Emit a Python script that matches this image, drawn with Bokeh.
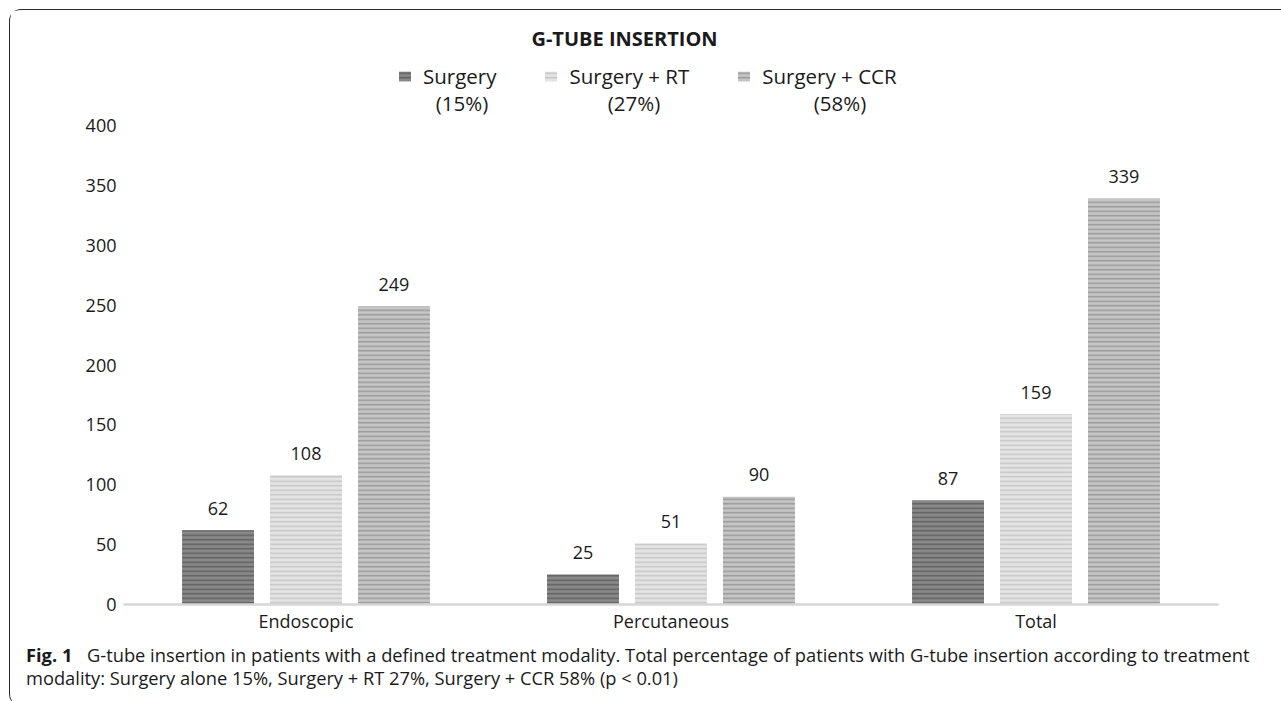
from bokeh.plotting import figure
from bokeh.layouts import column
from bokeh.models import (FactorRange, Range1d, ColumnDataSource, LabelSet, Label,
                          Legend, LegendItem, FixedTicker, Div)
from bokeh.transform import dodge
from bokeh.core.properties import value
from bokeh.embed import file_html
from bokeh.resources import INLINE

# ---------------- data ----------------
categories = ["Endoscopic", "Percutaneous", "Total"]
series = ["Surgery", "Surgery + RT", "Surgery + CCR"]
percents = ["(15%)", "(27%)", "(58%)"]
surgery = [62, 25, 87]
surgery_rt = [108, 51, 159]
surgery_ccr = [249, 90, 339]
y_ticks = [0, 50, 100, 150, 200, 250, 300, 350, 400]
title_text = "G-TUBE INSERTION"
caption_bold = "Fig. 1"
caption_line1 = ("G-tube insertion in patients with a defined treatment modality. Total percentage "
                 "of patients with G-tube insertion according to treatment")
caption_line2 = "modality: Surgery alone 15%, Surgery + RT 27%, Surgery + CCR 58% (p < 0.01)"

# ---------------- styles / layout ----------------
FONT = "Open Sans"
TXT = "#1a1a1a"
fills = ["#8a8a8a", "#e4e4e4", "#c6c6c6"]
hatches = ["#616161", "#c6c6c6", "#9a9a9a"]
offsets = [-0.241, 0.0, 0.241]
bar_w = 0.197

O = 10                     # page position of the canvas origin
W = 1268
H1 = 630                   # chart figure height
L, R, T, B = 113, 60, 0, 36
FRAME_LEFT = O + L         # page x of frame left
FRAME_BOTTOM = O + H1 - B  # page y of frame bottom (value 0)
PX_PER_UNIT = (FRAME_BOTTOM - 125) / 400.0
Y_TOP = (H1 - B - T) / PX_PER_UNIT


def sx(px):
    return px - FRAME_LEFT


def sy(py):
    return FRAME_BOTTOM - py


cols = ["s1", "s2", "s3"]
source = ColumnDataSource(dict(
    cat=categories,
    s1=surgery, s2=surgery_rt, s3=surgery_ccr,
    t1=[str(v) for v in surgery],
    t2=[str(v) for v in surgery_rt],
    t3=[str(v) for v in surgery_ccr],
))

p = figure(x_range=FactorRange(*categories), y_range=Range1d(0, Y_TOP),
           width=W, height=H1, min_border_left=L, min_border_right=R,
           min_border_top=T, min_border_bottom=B,
           output_backend="svg", toolbar_location=None, tools="",
           outline_line_color=None, background_fill_color="white",
           border_fill_color="white")

p.xgrid.visible = False
p.ygrid.visible = False

p.yaxis.ticker = FixedTicker(ticks=y_ticks)
p.yaxis.axis_line_color = None
p.yaxis.major_tick_line_color = None
p.yaxis.minor_tick_line_color = None
p.yaxis.major_tick_out = 0
p.yaxis.minor_tick_out = 0
p.yaxis.major_label_standoff = 7
p.yaxis.major_label_text_font = FONT
p.yaxis.major_label_text_font_size = "18px"
p.yaxis.major_label_text_color = TXT

p.xaxis.axis_line_color = "#d6d6d6"
p.xaxis.axis_line_width = 2.5
p.xaxis.major_tick_line_color = None
p.xaxis.minor_tick_line_color = None
p.xaxis.major_tick_out = 0
p.xaxis.minor_tick_out = 0
p.xaxis.major_label_standoff = 4
p.xaxis.major_label_text_font = FONT
p.xaxis.major_label_text_font_size = "18px"
p.xaxis.major_label_text_color = TXT

renderers = []
for i in range(3):
    r = p.vbar(x=dodge("cat", offsets[i], range=p.x_range), top=cols[i], width=bar_w,
               source=source, fill_color=fills[i], line_color=None,
               hatch_pattern="horizontal_line", hatch_color=hatches[i],
               hatch_scale=4.5, hatch_weight=1.6)
    renderers.append(r)
    p.add_layout(LabelSet(x=dodge("cat", offsets[i], range=p.x_range), y=cols[i],
                          text="t%d" % (i + 1), source=source, y_offset=22,
                          text_align="center", text_baseline="middle",
                          text_font=value(FONT), text_font_size="18px", text_color=TXT))

legend = Legend(items=[LegendItem(label=series[i], renderers=[renderers[i]]) for i in range(3)],
                orientation="horizontal", location=(sx(397), sy(90)),
                padding=0, margin=0, spacing=47, label_standoff=11,
                glyph_width=15, glyph_height=12, border_line_color=None,
                background_fill_alpha=0, label_text_font=FONT,
                label_text_font_size="20.5px", label_text_color=TXT)
p.add_layout(legend)

pct_x = [461.5, 633.5, 839.5]
for i in range(3):
    p.add_layout(Label(x=sx(pct_x[i]), y=sy(102), x_units="screen", y_units="screen",
                       text=percents[i], text_align="center", text_baseline="middle",
                       text_font=FONT, text_font_size="20.5px", text_color=TXT))

p.add_layout(Label(x=sx(624), y=sy(38), x_units="screen", y_units="screen",
                   text=title_text, text_align="center", text_baseline="middle",
                   text_font=FONT, text_font_size="20px", text_font_style="bold",
                   text_color=TXT))

# ---------------- caption ----------------
caption_html = (
    '<div style="white-space:nowrap;margin-top:-1px">'
    '<span style="display:inline-block;width:61px;font-weight:bold">%s</span>%s<br>%s</div>'
    % (caption_bold, caption_line1, caption_line2)
)
cap = Div(text=caption_html, width=W, height=56,
          styles={"font-family": "'Open Sans'", "font-size": "18.3px",
                  "line-height": "22.5px", "color": TXT,
                  "padding-left": "11px", "padding-top": "0px",
                  "box-sizing": "border-box"})

layout = column(p, cap, spacing=0)
layout.styles = {"margin-left": "9px", "margin-top": "9px",
                 "border-top": "1.5px solid #2a2a2a", "border-left": "1.5px solid #2a2a2a",
                 "border-top-left-radius": "12px", "border-bottom-left-radius": "12px"}

open("out.html", "w").write(file_html(layout, INLINE))
